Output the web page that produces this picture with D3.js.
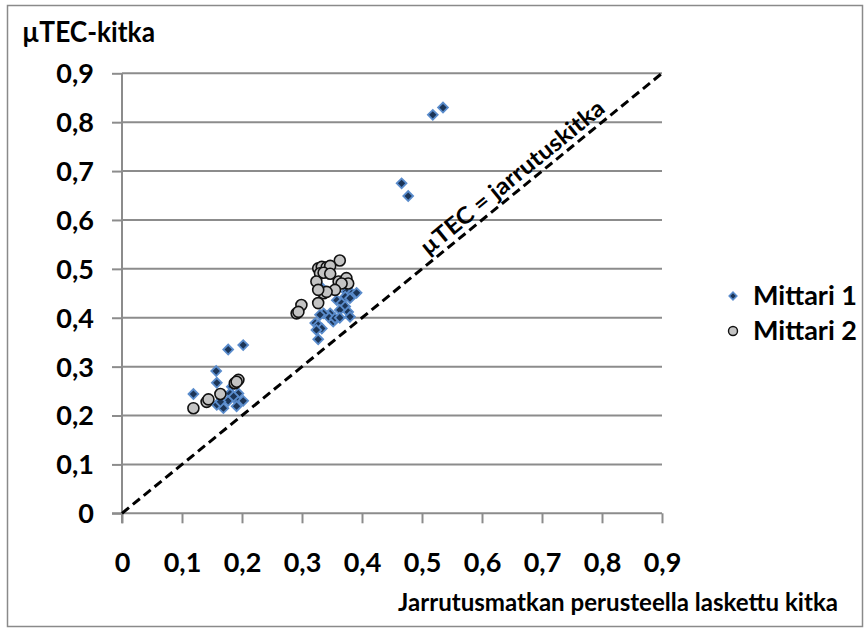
<!DOCTYPE html>
<html>
<head>
<meta charset="utf-8">
<script src="https://cdnjs.cloudflare.com/ajax/libs/d3/7.8.5/d3.min.js"></script>
<style>
  body { margin: 0; background: #fff; }
  text { font-family: Lato, "Open Sans", sans-serif; font-weight: bold; fill: #000; }
</style>
</head>
<body>
<div id="vis"></div>
<script>
// axis ticks (comma decimal, as in the original)
const tickValues = [0, 0.1, 0.2, 0.3, 0.4, 0.5, 0.6, 0.7, 0.8, 0.9];
const tickLabels = ["0", "0,1", "0,2", "0,3", "0,4", "0,5", "0,6", "0,7", "0,8", "0,9"];

// Mittari 1 : [braking-distance friction, µTEC friction]
const mittari1X = [0.518, 0.535, 0.466, 0.477,
  0.177, 0.202, 0.157, 0.158, 0.119, 0.183, 0.180, 0.194, 0.191, 0.202, 0.177, 0.158, 0.169, 0.191, 0.164, 0.186,
  0.374, 0.383, 0.391, 0.372, 0.380, 0.358, 0.366, 0.372, 0.377, 0.363, 0.380, 0.347, 0.352, 0.344, 0.336,
  0.330, 0.322, 0.327, 0.333, 0.324, 0.327, 0.355, 0.363, 0.330];
const mittari1Y = [0.815, 0.830, 0.675, 0.649,
  0.335, 0.344, 0.291, 0.267, 0.244, 0.259, 0.245, 0.245, 0.232, 0.230, 0.230, 0.222, 0.215, 0.219, 0.228, 0.239,
  0.453, 0.450, 0.451, 0.443, 0.440, 0.436, 0.430, 0.423, 0.412, 0.416, 0.402, 0.409, 0.392, 0.402, 0.409,
  0.406, 0.389, 0.385, 0.378, 0.375, 0.356, 0.399, 0.400, 0.465];

// Mittari 2
const mittari2X = [0.119, 0.141, 0.144, 0.164, 0.188, 0.194, 0.191,
  0.363, 0.327, 0.333, 0.341, 0.347, 0.330, 0.336, 0.347, 0.324, 0.361, 0.372, 0.374, 0.377, 0.366,
  0.355, 0.336, 0.341, 0.327, 0.299, 0.327, 0.291, 0.294];
const mittari2Y = [0.215, 0.228, 0.233, 0.244, 0.266, 0.273, 0.269,
  0.517, 0.501, 0.504, 0.503, 0.506, 0.491, 0.492, 0.490, 0.474, 0.474, 0.477, 0.481, 0.470, 0.470,
  0.457, 0.450, 0.453, 0.457, 0.426, 0.430, 0.409, 0.412];

const seriesNames = ["Mittari 1", "Mittari 2"];
const yTitle = "µTEC-kitka";
const xTitle = "Jarrutusmatkan perusteella laskettu kitka";
const lineLabel = "µTEC = jarrutuskitka";

const W = 866, H = 632;
const svg = d3.select("#vis").append("svg").attr("width", W).attr("height", H);

// outer chart border
svg.append("rect").attr("x", 7.5).attr("y", 5.5).attr("width", 855).attr("height", 621)
  .style("fill", "#fff").style("stroke", "#8a8a8a").style("stroke-width", 1.5);

const x = d3.scaleLinear().domain([0, 0.9]).range([122, 662]);
const y = d3.scaleLinear().domain([0, 0.9]).range([513.3, 73.3]);
const grey = "#8c8c8c";

// horizontal gridlines
svg.append("g").selectAll("line")
  .data(tickValues.slice(1))
  .join("line")
  .attr("x1", x(0)).attr("x2", x(0.9))
  .attr("y1", d => y(d)).attr("y2", d => y(d))
  .style("stroke", grey).style("stroke-width", 2);

// x axis
const xAxis = svg.append("g").attr("transform", `translate(0,${y(0)})`)
  .call(d3.axisBottom(x).tickValues(tickValues).tickFormat((d, i) => tickLabels[i]).tickSize(10).tickSizeOuter(0));
xAxis.select(".domain").attr("d", `M${x(0) - 10},0H${x(0.9)}`);
// y axis
const yAxis = svg.append("g").attr("transform", `translate(${x(0)},0)`)
  .call(d3.axisLeft(y).tickValues(tickValues).tickFormat((d, i) => tickLabels[i]).tickSize(10).tickSizeOuter(0));
yAxis.select(".domain").attr("d", `M0,${y(0) + 10}V${y(0.9)}`);

[xAxis, yAxis].forEach(g => {
  g.selectAll(".domain, .tick line").style("stroke", grey).style("stroke-width", 2);
  g.selectAll("text").style("font-family", "Lato, sans-serif").style("font-weight", "bold")
    .style("font-size", "27px").style("fill", "#000");
});
xAxis.selectAll("text").attr("y", 49).attr("dy", "0.35em");
yAxis.selectAll("text").attr("x", -28).attr("dy", "0.35em");

// 1:1 dashed line
svg.append("line")
  .attr("x1", x(0)).attr("y1", y(0)).attr("x2", x(0.9)).attr("y2", y(0.9))
  .style("stroke", "#000").style("stroke-width", 3).style("stroke-dasharray", "9,5");

// rotated label along the line
const ang = Math.atan2(y(0.9) - y(0), x(0.9) - x(0)) * 180 / Math.PI;
const mid = 0.665;
svg.append("text")
  .attr("transform", `translate(${x(mid)},${y(mid)}) rotate(${ang}) translate(0,-6)`)
  .attr("text-anchor", "middle")
  .attr("textLength", 230).attr("lengthAdjust", "spacingAndGlyphs")
  .style("font-size", "23px")
  .text(lineLabel);

// points
const pts1 = d3.zip(mittari1X, mittari1Y);
const pts2 = d3.zip(mittari2X, mittari2Y);
const diamond = d3.symbol().type(d3.symbolSquare).size(48);

svg.append("g").selectAll("path")
  .data(pts1)
  .join("path")
  .attr("d", diamond)
  .attr("transform", d => `translate(${x(d[0])},${y(d[1])}) rotate(45)`)
  .style("fill", "#1c3557").style("stroke", "#5a8ccc").style("stroke-width", 1.8);

svg.append("g").selectAll("circle")
  .data(pts2)
  .join("circle")
  .attr("cx", d => x(d[0])).attr("cy", d => y(d[1])).attr("r", 5.5)
  .style("fill", "#c4c4c4").style("stroke", "#111").style("stroke-width", 1.6);

// titles
svg.append("text").attr("x", 22).attr("y", 42).style("font-size", "28px")
  .attr("textLength", 133).attr("lengthAdjust", "spacingAndGlyphs").text(yTitle);
// x title: size the font so it ends at x = 838
const xt = svg.append("text").attr("x", 838).attr("y", 611).attr("text-anchor", "end")
  .style("font-size", "25px").text(xTitle);
const natural = xt.node().getComputedTextLength();
xt.style("font-size", `${Math.min(26, 25 * 440 / natural)}px`);

// legend
const legend = svg.append("g");
const legY = [296, 331];
legend.append("path").attr("d", d3.symbol().type(d3.symbolSquare).size(30))
  .attr("transform", `translate(733,${legY[0]}) rotate(45)`)
  .style("fill", "#1c3557").style("stroke", "#5a8ccc").style("stroke-width", 1.5);
legend.append("circle").attr("cx", 733).attr("cy", legY[1]).attr("r", 4.5)
  .style("fill", "#c4c4c4").style("stroke", "#111").style("stroke-width", 1.4);
legend.selectAll("text.leg").data(seriesNames).join("text").attr("class", "leg")
  .attr("x", 753).attr("y", (d, i) => legY[i]).attr("dy", "0.35em")
  .style("font-size", "27px").text(d => d);
</script>
</body>
</html>
